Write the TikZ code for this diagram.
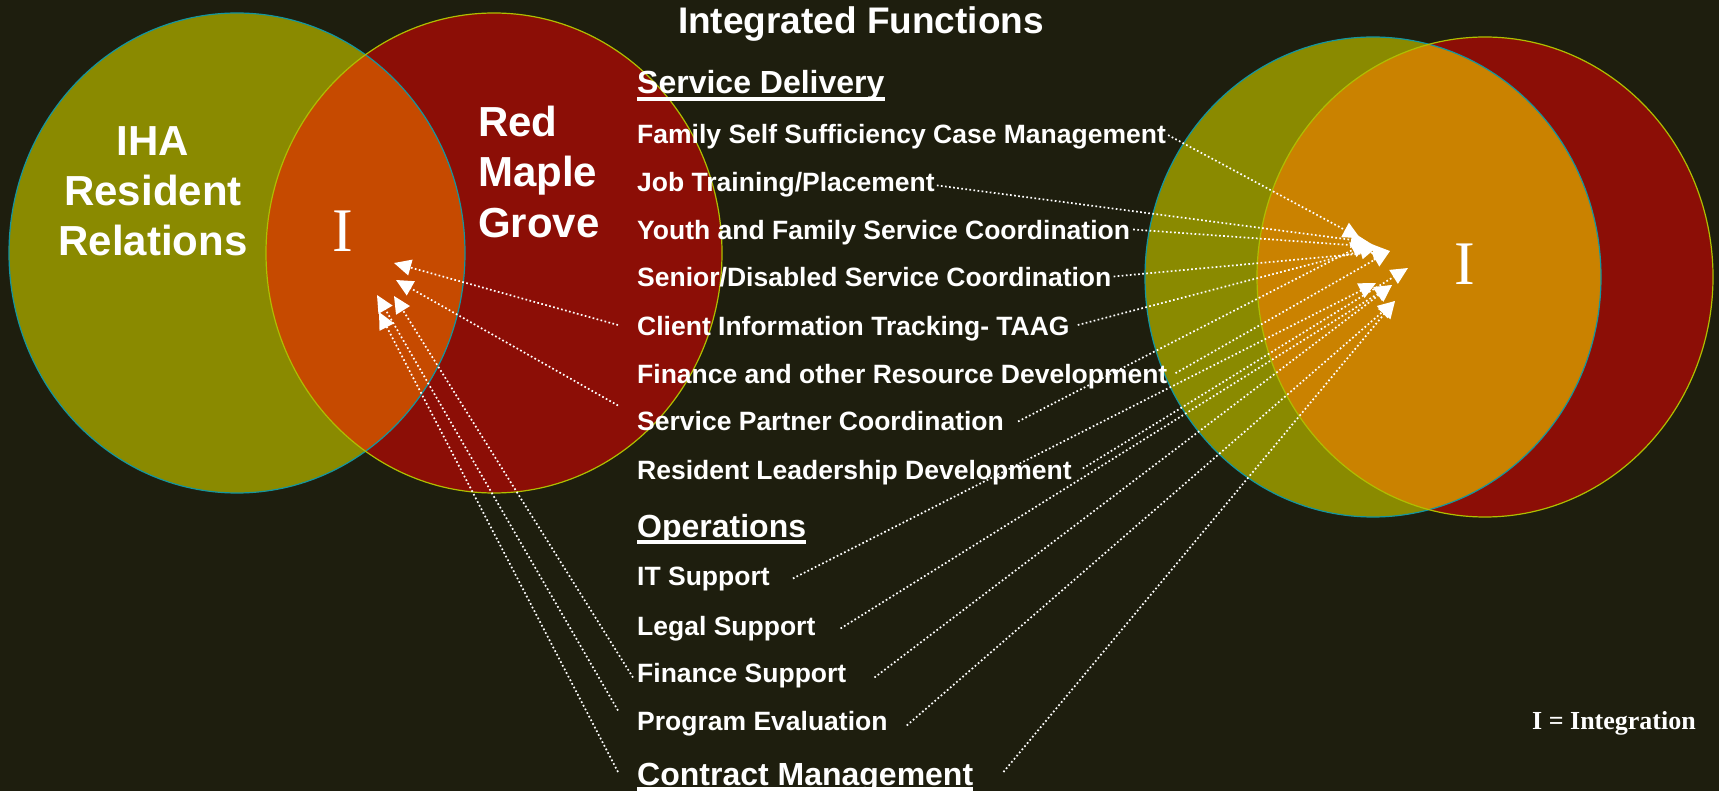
\documentclass[tikz,border=0pt]{standalone}
\usepackage{fontspec}
\setmainfont{Liberation Sans}
\newfontfamily\timesfont{Liberation Serif}
\usetikzlibrary{arrows.meta}
\definecolor{bgc}{RGB}{30,30,14}
\definecolor{olivec}{RGB}{138,138,0}
\definecolor{redc}{RGB}{140,14,6}
\definecolor{orangeL}{RGB}{198,74,0}
\definecolor{orangeR}{RGB}{202,130,0}
\definecolor{tealc}{RGB}{20,150,160}
\definecolor{limec}{RGB}{175,190,0}
\tikzset{
  item/.style={anchor=base west, inner sep=0pt, text height=19pt, text depth=6pt,
    font=\bfseries\fontsize{26.5}{30}\selectfont, text=white},
  hdr/.style={anchor=base west, inner sep=0pt, text height=23pt, text depth=7pt,
    font=\bfseries\fontsize{32}{36}\selectfont, text=white},
  biglabel/.style={inner sep=0pt, font=\bfseries\fontsize{42}{50}\selectfont, text=white},
  bigI/.style={anchor=base, inner sep=0pt, font=\timesfont\fontsize{62}{70}\selectfont, text=white},
  uline/.style={white, line width=3.5pt},
  conn/.style={white, line width=1.7pt, dash pattern=on 1.7pt off 2.4pt,
    -{Triangle[length=17pt,width=16pt]}},
  oliveedge/.style={tealc, line width=1.2pt},
  rededge/.style={limec, line width=1.2pt}
}
\begin{document}
\begin{tikzpicture}[x=1pt,y=-1pt]
\useasboundingbox (0,0) rectangle (1719,791);
\fill[bgc] (0,0) rectangle (1719,791);
% left pair
\fill[olivec] (237,253) ellipse [x radius=228, y radius=240];
\fill[redc] (494,253) ellipse [x radius=228, y radius=240];
\begin{scope}
  \clip (237,253) ellipse [x radius=228, y radius=240];
  \fill[orangeL] (494,253) ellipse [x radius=228, y radius=240];
\end{scope}
\draw[oliveedge] (237,253) ellipse [x radius=228, y radius=240];
\draw[rededge] (494,253) ellipse [x radius=228, y radius=240];
% right pair
\fill[olivec] (1373,277) ellipse [x radius=228, y radius=240];
\fill[redc] (1485,277) ellipse [x radius=228, y radius=240];
\begin{scope}
  \clip (1373,277) ellipse [x radius=228, y radius=240];
  \fill[orangeR] (1485,277) ellipse [x radius=228, y radius=240];
\end{scope}
\draw[oliveedge] (1373,277) ellipse [x radius=228, y radius=240];
\draw[rededge] (1485,277) ellipse [x radius=228, y radius=240];

% circle labels
\node[biglabel, anchor=base] (iha) at (153,156) {IHA};
\node[biglabel, anchor=base] (resident) at (153,206) {Resident};
\node[biglabel, anchor=base] (relations) at (153,256) {Relations};
\node[biglabel, anchor=base west] (red) at (478,137) {Red};
\node[biglabel, anchor=base west] (maple) at (478,187) {Maple};
\node[biglabel, anchor=base west] (grove) at (478,238) {Grove};
\node[bigI] (ileft) at (343,252) {I};
\node[bigI] (iright) at (1465,285) {I};

% title and lists
\node[anchor=base, inner sep=0pt, font=\bfseries\fontsize{37}{40}\selectfont, text=white] (title) at (861,34) {Integrated Functions};
\node[hdr] (sd) at (637,94) {Service Delivery};
\draw[uline] ([yshift=-5pt]sd.base west) -- ([yshift=-5pt]sd.base east);
\node[item] (fam) at (637,143.6) {Family Self Sufficiency Case Management};
\node[item] (job) at (637,191.9) {Job Training/Placement};
\node[item] (youth) at (637,240) {Youth and Family Service Coordination};
\node[item] (senior) at (637,287) {Senior/Disabled Service Coordination};
\node[item] (client) at (637,335.5) {Client Information Tracking- TAAG};
\node[item] (finres) at (637,383.7) {Finance and other Resource Development};
\node[item] (sp) at (637,431) {Service Partner Coordination};
\node[item] (rld) at (637,479) {Resident Leadership Development};
\node[hdr] (ops) at (637,537) {Operations};
\draw[uline] ([yshift=-5pt]ops.base west) -- ([yshift=-5pt]ops.base east);
\node[item] (it) at (637,585) {IT Support};
\node[item] (legal) at (637,635) {Legal Support};
\node[item] (finsup) at (637,682) {Finance Support};
\node[item] (progev) at (637,730) {Program Evaluation};
\node[hdr] (contract) at (637,785) {Contract Management};
\draw[uline] ([yshift=-4pt]contract.base west) -- ([yshift=-4pt]contract.base east);
\node[anchor=base west, inner sep=0pt, font=\timesfont\bfseries\fontsize{26}{30}\selectfont, text=white] (legend) at (1532,729) {I = Integration};

% arrow tips
\coordinate (tL1) at (394,263);
\coordinate (tL2) at (396,280);
\coordinate (tL3) at (394,296);
\coordinate (tL4) at (377,295);
\coordinate (tL5) at (379,312);
\coordinate (tR1) at (1360,238);
\coordinate (tR2) at (1368,242);
\coordinate (tR3) at (1377,247);
\coordinate (tR4) at (1390,251);
\coordinate (tR5) at (1408,268);
\coordinate (tR6) at (1376,283);
\coordinate (tR7) at (1392,285);
\coordinate (tR8) at (1395,301);

% left connectors
\draw[conn] ([xshift=-19pt,yshift=4pt]client.west) -- (tL1);
\draw[conn] ([xshift=-19pt,yshift=19pt]sp.west) -- (tL2);
\draw[conn] ([xshift=-4pt,yshift=-2pt]finsup.west) -- (tL3);
\draw[conn] ([xshift=-19pt,yshift=13pt]progev.west) -- (tL4);
\draw[conn] ([xshift=-19pt,yshift=5pt]contract.west) -- (tL5);

% right connectors
\draw[conn] ([xshift=2pt,yshift=2pt]fam.east) -- (tR1);
\draw[conn] ([xshift=2pt]job.east) -- (tR2);
\draw[conn] ([xshift=3pt,yshift=4pt]youth.east) -- (tR3);
\draw[conn] ([xshift=2pt,yshift=4pt]senior.east) -- (tR4);
\draw[conn] ([xshift=8pt,yshift=4pt]client.east) -- (tR3);
\draw[conn] ([xshift=8pt,yshift=4pt]finres.east) -- (tR4);
\draw[conn] ([xshift=14pt,yshift=3pt]sp.east) -- (tR2);
\draw[conn] ([xshift=11pt,yshift=4pt]rld.east) -- (tR5);
\draw[conn] ([xshift=23pt]it.east) -- (tR6);
\draw[conn] ([xshift=25pt]legal.east) -- (tR7);
\draw[conn] ([xshift=28pt,yshift=-2pt]finsup.east) -- (tR7);
\draw[conn] ([xshift=19pt,yshift=-2pt]progev.east) -- (tR8);
\draw[conn] ([xshift=30pt,yshift=5pt]contract.east) -- (tR8);
\end{tikzpicture}
\end{document}
